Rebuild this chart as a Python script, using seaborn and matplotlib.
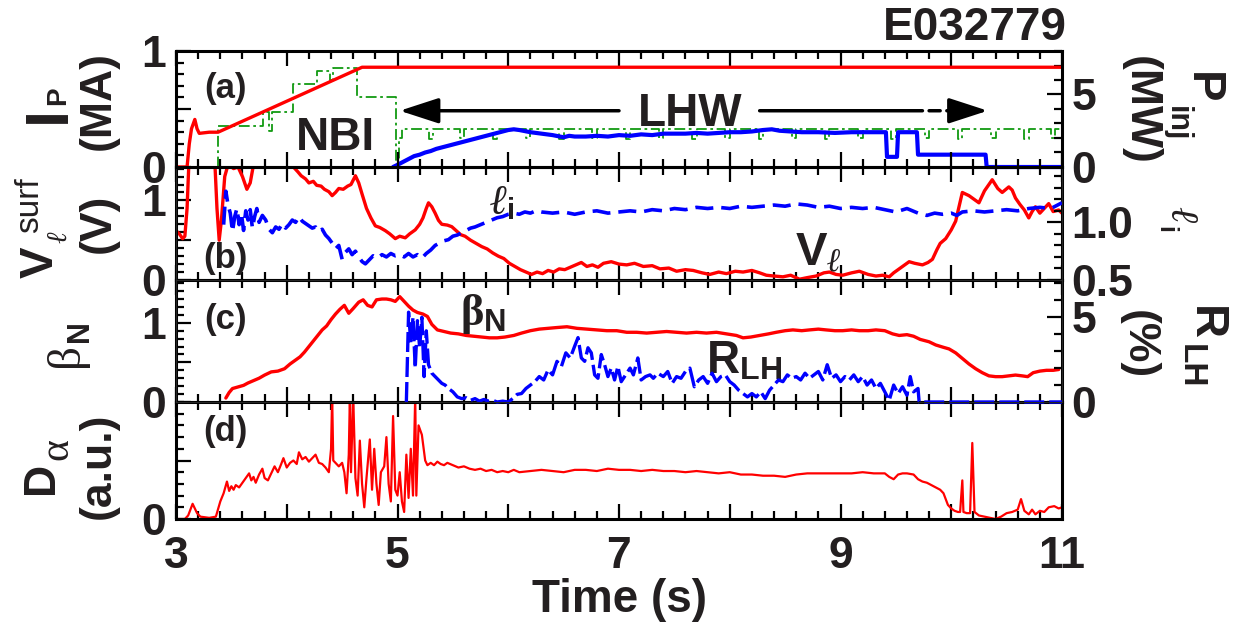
import matplotlib
matplotlib.use('Agg')
import matplotlib.pyplot as plt
from matplotlib.ticker import MultipleLocator
import seaborn as sns

# ---- data (time in s) ----
# (a) plasma current (MA)
ip = [(3.00, 0.0), (3.10, 0.0), (3.12, 0.2), (3.14, 0.33), (3.17, 0.41), (3.19, 0.33),
      (3.21, 0.29), (3.30, 0.30), (3.38, 0.30), (4.68, 0.86), (11.0, 0.86)]
# (a) NBI power (MW), step trace
nbi = [(3.00, 0.0), (3.38, 2.8), (3.79, 3.8), (3.84, 2.5), (3.87, 3.8), (4.06, 5.7), (4.27, 6.6),
       (4.39, 6.0), (4.42, 6.8), (4.63, 4.8), (4.99, 0.3), (5.01, 2.0), (5.04, 2.65), (5.28, 1.95),
       (5.32, 2.65), (5.56, 2.0), (5.60, 2.6), (5.86, 1.95), (5.90, 2.65), (6.16, 2.0), (6.20, 2.6),
       (6.46, 1.95), (6.50, 2.65), (6.76, 2.0), (6.80, 2.6), (7.06, 1.95), (7.10, 2.65), (7.36, 2.0),
       (7.40, 2.6), (7.66, 1.95), (7.70, 2.65), (7.96, 2.0), (8.00, 2.6), (8.26, 1.95), (8.30, 2.65),
       (8.56, 2.0), (8.60, 2.6), (8.86, 1.95), (8.90, 2.65), (9.16, 2.0), (9.20, 2.6), (9.46, 1.95),
       (9.50, 2.65), (9.76, 2.0), (9.80, 2.6), (10.06, 1.95), (10.10, 2.65), (10.36, 2.0),
       (10.40, 2.6), (10.66, 1.95), (10.70, 2.65), (10.90, 2.0), (10.94, 2.6), (11.0, 2.6)]
# (a) LHW power (MW)
lhw = [(4.96, 0.0), (5.00, 0.15), (5.05, 0.35), (5.10, 0.55), (5.15, 0.75), (5.20, 0.85), (5.25, 1.0),
       (5.30, 1.1), (5.35, 1.25), (5.40, 1.35), (5.45, 1.45), (5.50, 1.55), (5.55, 1.65), (5.60, 1.75),
       (5.65, 1.85), (5.70, 1.95), (5.75, 2.05), (5.80, 2.15), (5.85, 2.25), (5.90, 2.35), (5.95, 2.45),
       (6.00, 2.55), (6.05, 2.6), (6.10, 2.55), (6.20, 2.4), (6.30, 2.3), (6.40, 2.2), (6.50, 2.05),
       (6.55, 2.15), (6.60, 2.1), (6.70, 2.1), (6.80, 2.15), (6.90, 2.1), (7.00, 2.2), (7.10, 2.15),
       (7.20, 2.25), (7.30, 2.2), (7.40, 2.3), (7.50, 2.3), (7.60, 2.3), (7.70, 2.35), (7.80, 2.3),
       (7.90, 2.35), (8.00, 2.4), (8.10, 2.4), (8.20, 2.45), (8.30, 2.55), (8.38, 2.6), (8.45, 2.5),
       (8.55, 2.45), (8.65, 2.4), (8.80, 2.4), (8.95, 2.35), (9.10, 2.4), (9.25, 2.4), (9.41, 2.4),
       (9.42, 0.7), (9.51, 0.7), (9.52, 2.4), (9.69, 2.4), (9.70, 0.85), (10.31, 0.85), (10.32, 0.0),
       (11.0, 0.0)]
# (b) surface loop voltage (V)
vloop = [(3.00, 0.62), (3.03, 0.58), (3.06, 0.52), (3.08, 0.55), (3.10, 0.9), (3.12, 1.6), (3.30, 1.8),
         (3.35, 1.5), (3.37, 0.9), (3.39, 0.50), (3.41, 0.75), (3.44, 1.3), (3.47, 1.45), (3.52, 1.40),
         (3.56, 1.42), (3.60, 1.30), (3.64, 1.14), (3.67, 1.22), (3.70, 1.45), (3.75, 1.6), (4.02, 1.6),
         (4.06, 1.42), (4.10, 1.36), (4.13, 1.31), (4.17, 1.27), (4.20, 1.22), (4.24, 1.24), (4.27, 1.19),
         (4.31, 1.18), (4.34, 1.14), (4.38, 1.11), (4.41, 1.06), (4.44, 1.10), (4.47, 1.15), (4.51, 1.14),
         (4.55, 1.18), (4.58, 1.20), (4.62, 1.31), (4.65, 1.22), (4.68, 1.08), (4.72, 0.90), (4.76, 0.78),
         (4.80, 0.68), (4.84, 0.66), (4.89, 0.62), (4.93, 0.58), (4.98, 0.52), (5.02, 0.55), (5.07, 0.53),
         (5.11, 0.58), (5.16, 0.63), (5.20, 0.70), (5.23, 0.78), (5.26, 0.90), (5.28, 0.97), (5.31, 0.92),
         (5.34, 0.84), (5.37, 0.75), (5.40, 0.70), (5.45, 0.69), (5.49, 0.67), (5.53, 0.62), (5.57, 0.57),
         (5.61, 0.55), (5.66, 0.50), (5.71, 0.46), (5.76, 0.42), (5.81, 0.39), (5.86, 0.34), (5.91, 0.30),
         (5.96, 0.27), (6.01, 0.21), (6.06, 0.17), (6.11, 0.13), (6.16, 0.10), (6.21, 0.07), (6.26, 0.10),
         (6.31, 0.08), (6.36, 0.12), (6.41, 0.10), (6.46, 0.14), (6.51, 0.13), (6.56, 0.16), (6.61, 0.19),
         (6.66, 0.22), (6.71, 0.17), (6.76, 0.19), (6.81, 0.16), (6.86, 0.21), (6.93, 0.23), (7.00, 0.20),
         (7.07, 0.19), (7.14, 0.21), (7.22, 0.17), (7.30, 0.18), (7.37, 0.14), (7.45, 0.15), (7.52, 0.11),
         (7.60, 0.13), (7.67, 0.12), (7.75, 0.09), (7.82, 0.07), (7.90, 0.10), (7.97, 0.08), (8.05, 0.11),
         (8.12, 0.10), (8.20, 0.12), (8.27, 0.09), (8.33, 0.06), (8.40, 0.05), (8.48, 0.04), (8.55, 0.06),
         (8.63, 0.01), (8.70, 0.03), (8.78, 0.05), (8.85, 0.09), (8.90, 0.10), (8.96, 0.07), (9.02, 0.06),
         (9.10, 0.09), (9.17, 0.11), (9.25, 0.07), (9.32, 0.05), (9.38, 0.06), (9.44, 0.04), (9.48, 0.09),
         (9.53, 0.14), (9.58, 0.19), (9.62, 0.23), (9.67, 0.21), (9.74, 0.19), (9.79, 0.22), (9.83, 0.26),
         (9.87, 0.38), (9.90, 0.46), (9.95, 0.52), (10.00, 0.63), (10.04, 0.74), (10.07, 0.92),
         (10.10, 1.10), (10.16, 1.06), (10.20, 1.02), (10.25, 0.97), (10.30, 1.12), (10.37, 1.26),
         (10.42, 1.15), (10.46, 1.10), (10.52, 1.17), (10.55, 1.13), (10.58, 1.03), (10.62, 0.95),
         (10.66, 0.88), (10.70, 0.78), (10.73, 0.86), (10.76, 0.92), (10.80, 0.84), (10.84, 0.90),
         (10.88, 0.96), (10.92, 0.86), (10.97, 0.88), (11.00, 0.84)]
# (b) internal inductance
li = [(3.43, 0.98), (3.45, 1.27), (3.47, 1.15), (3.49, 1.08), (3.51, 0.92), (3.53, 1.05), (3.55, 1.12),
      (3.57, 0.98), (3.59, 1.08), (3.61, 0.93), (3.63, 1.10), (3.65, 1.02), (3.67, 1.11), (3.69, 0.95),
      (3.71, 1.05), (3.73, 1.12), (3.75, 1.00), (3.78, 1.06), (3.81, 1.02), (3.84, 0.94), (3.87, 0.91),
      (3.90, 0.96), (3.93, 0.94), (3.96, 0.99), (3.99, 0.95), (4.02, 0.98), (4.05, 1.02), (4.08, 1.00),
      (4.11, 1.05), (4.14, 1.01), (4.17, 0.99), (4.20, 0.97), (4.23, 0.95), (4.26, 0.96), (4.29, 0.92),
      (4.32, 0.94), (4.35, 0.89), (4.38, 0.86), (4.41, 0.82), (4.44, 0.77), (4.47, 0.80), (4.50, 0.68),
      (4.53, 0.74), (4.56, 0.77), (4.59, 0.72), (4.62, 0.75), (4.65, 0.70), (4.68, 0.66), (4.71, 0.64),
      (4.74, 0.67), (4.78, 0.71), (4.82, 0.69), (4.86, 0.72), (4.90, 0.70), (4.94, 0.73), (4.98, 0.71),
      (5.02, 0.72), (5.06, 0.70), (5.10, 0.73), (5.14, 0.70), (5.18, 0.72), (5.22, 0.69), (5.26, 0.73),
      (5.30, 0.76), (5.34, 0.80), (5.38, 0.82), (5.42, 0.84), (5.46, 0.85), (5.50, 0.88), (5.54, 0.89),
      (5.58, 0.91), (5.62, 0.93), (5.66, 0.95), (5.70, 0.96), (5.75, 0.98), (5.80, 1.00), (5.85, 1.02),
      (5.90, 1.04), (5.95, 1.05), (6.00, 1.07), (6.05, 1.08), (6.10, 1.07), (6.15, 1.09), (6.20, 1.08),
      (6.25, 1.10), (6.30, 1.09), (6.40, 1.08), (6.50, 1.09), (6.60, 1.07), (6.70, 1.09), (6.80, 1.10),
      (6.90, 1.08), (7.00, 1.09), (7.10, 1.10), (7.20, 1.09), (7.30, 1.11), (7.40, 1.10), (7.50, 1.12),
      (7.60, 1.11), (7.70, 1.13), (7.80, 1.12), (7.90, 1.13), (8.00, 1.12), (8.10, 1.14), (8.20, 1.13),
      (8.30, 1.14), (8.40, 1.15), (8.50, 1.14), (8.60, 1.16), (8.70, 1.15), (8.80, 1.13), (8.90, 1.14),
      (9.00, 1.12), (9.10, 1.13), (9.20, 1.12), (9.30, 1.13), (9.40, 1.11), (9.50, 1.09), (9.60, 1.12),
      (9.70, 1.08), (9.78, 1.06), (9.85, 1.08), (9.92, 1.07), (10.00, 1.08), (10.05, 1.06), (10.10, 1.09),
      (10.20, 1.10), (10.30, 1.09), (10.40, 1.10), (10.50, 1.11), (10.60, 1.10), (10.70, 1.12),
      (10.80, 1.13), (10.90, 1.12), (11.00, 1.17)]
# (c) normalised beta
beta_n = [(3.45, 0.05), (3.48, 0.12), (3.51, 0.17), (3.56, 0.19), (3.61, 0.21), (3.65, 0.24), (3.70, 0.27),
          (3.75, 0.30), (3.80, 0.34), (3.86, 0.38), (3.92, 0.39), (3.98, 0.42), (4.03, 0.48), (4.07, 0.52),
          (4.12, 0.57), (4.16, 0.63), (4.20, 0.70), (4.24, 0.77), (4.28, 0.84), (4.32, 0.91), (4.36, 0.96),
          (4.40, 1.04), (4.44, 1.11), (4.48, 1.17), (4.52, 1.22), (4.56, 1.12), (4.60, 1.18), (4.65, 1.26),
          (4.69, 1.29), (4.73, 1.22), (4.77, 1.20), (4.81, 1.29), (4.86, 1.30), (4.90, 1.30), (4.94, 1.29),
          (4.98, 1.27), (5.02, 1.33), (5.06, 1.27), (5.10, 1.21), (5.14, 1.16), (5.18, 1.13), (5.23, 1.11),
          (5.27, 1.08), (5.31, 0.98), (5.36, 0.91), (5.42, 0.89), (5.48, 0.87), (5.55, 0.86), (5.62, 0.84),
          (5.69, 0.83), (5.76, 0.82), (5.83, 0.81), (5.90, 0.81), (5.97, 0.82), (6.05, 0.84), (6.12, 0.87),
          (6.20, 0.90), (6.28, 0.92), (6.36, 0.93), (6.44, 0.94), (6.53, 0.95), (6.62, 0.93), (6.71, 0.92),
          (6.80, 0.91), (6.89, 0.90), (6.98, 0.90), (7.07, 0.88), (7.16, 0.88), (7.25, 0.87), (7.34, 0.88),
          (7.43, 0.89), (7.52, 0.88), (7.61, 0.87), (7.70, 0.88), (7.79, 0.87), (7.88, 0.88), (7.97, 0.86),
          (8.06, 0.84), (8.12, 0.81), (8.19, 0.82), (8.27, 0.84), (8.35, 0.86), (8.42, 0.88), (8.50, 0.90),
          (8.57, 0.91), (8.65, 0.90), (8.72, 0.91), (8.80, 0.92), (8.87, 0.91), (8.95, 0.90), (9.02, 0.90),
          (9.10, 0.91), (9.17, 0.90), (9.25, 0.90), (9.32, 0.91), (9.40, 0.90), (9.47, 0.86), (9.53, 0.84),
          (9.60, 0.85), (9.66, 0.83), (9.72, 0.79), (9.80, 0.76), (9.86, 0.72), (9.93, 0.69), (9.98, 0.67),
          (10.04, 0.62), (10.10, 0.55), (10.16, 0.48), (10.22, 0.42), (10.28, 0.37), (10.34, 0.33),
          (10.40, 0.32), (10.46, 0.32), (10.52, 0.33), (10.58, 0.34), (10.64, 0.33), (10.69, 0.32),
          (10.74, 0.37), (10.80, 0.39), (10.86, 0.40), (10.92, 0.40), (10.97, 0.41)]
# (c) LH wave reflection ratio (%)
r_lh = [(5.08, 0.0), (5.10, 5.3), (5.12, 3.5), (5.14, 5.0), (5.16, 2.0), (5.18, 4.8), (5.20, 3.2),
        (5.22, 5.0), (5.24, 1.5), (5.26, 4.2), (5.28, 2.2), (5.31, 1.7), (5.34, 1.5), (5.37, 1.3),
        (5.40, 1.1), (5.43, 1.0), (5.46, 0.8), (5.50, 0.6), (5.54, 0.3), (5.58, 0.2), (5.62, 0.25),
        (5.66, 0.1), (5.70, 0.2), (5.74, 0.05), (5.78, 0.15), (5.82, 0.05), (5.86, 0.1), (5.90, 0.0),
        (5.95, 0.05), (6.00, 0.0), (6.04, 0.2), (6.08, 0.45), (6.12, 0.5), (6.16, 0.8), (6.20, 1.0),
        (6.24, 1.2), (6.28, 1.5), (6.32, 1.3), (6.36, 1.9), (6.40, 1.6), (6.44, 2.4), (6.48, 2.1),
        (6.52, 2.9), (6.56, 2.6), (6.60, 3.3), (6.63, 3.8), (6.66, 2.6), (6.69, 2.4), (6.72, 3.2),
        (6.75, 2.9), (6.78, 1.6), (6.81, 1.4), (6.84, 2.8), (6.87, 2.2), (6.90, 1.5), (6.93, 2.0),
        (6.96, 1.3), (6.99, 2.1), (7.02, 1.2), (7.06, 1.6), (7.10, 2.0), (7.13, 1.6), (7.17, 2.6),
        (7.20, 1.3), (7.24, 1.5), (7.28, 1.6), (7.31, 1.4), (7.35, 1.7), (7.40, 1.5), (7.44, 1.8),
        (7.48, 1.1), (7.52, 1.5), (7.56, 1.4), (7.60, 1.8), (7.64, 2.0), (7.68, 0.9), (7.72, 1.3),
        (7.76, 1.5), (7.80, 1.1), (7.84, 1.7), (7.88, 1.2), (7.92, 1.5), (7.96, 1.6), (8.00, 1.2),
        (8.04, 1.0), (8.08, 0.7), (8.12, 0.5), (8.16, 0.3), (8.20, 0.5), (8.24, 0.3), (8.28, 0.6),
        (8.32, 0.2), (8.36, 0.7), (8.40, 1.0), (8.44, 1.3), (8.48, 1.2), (8.52, 1.6), (8.56, 1.4),
        (8.60, 1.5), (8.64, 1.3), (8.68, 1.7), (8.72, 1.4), (8.76, 1.6), (8.80, 1.8), (8.84, 1.3),
        (8.88, 2.2), (8.92, 1.4), (8.96, 1.6), (9.00, 1.2), (9.04, 1.5), (9.08, 1.3), (9.12, 1.6),
        (9.16, 1.2), (9.20, 1.5), (9.24, 1.0), (9.28, 1.3), (9.32, 0.8), (9.36, 1.1), (9.40, 0.6),
        (9.44, 0.1), (9.48, 1.0), (9.52, 0.5), (9.56, 0.9), (9.60, 0.4), (9.63, 1.5), (9.66, 0.6),
        (9.70, 0.8), (9.71, 0.0), (11.0, 0.0)]
# (d) D-alpha (a.u.)
d_alpha = [(3.00, 0.0), (3.08, 0.0), (3.11, 0.03), (3.15, 0.13), (3.19, 0.05), (3.22, 0.02), (3.30, 0.01),
           (3.36, 0.02), (3.40, 0.15), (3.43, 0.22), (3.46, 0.32), (3.48, 0.24), (3.50, 0.28), (3.52, 0.25),
           (3.54, 0.29), (3.57, 0.27), (3.60, 0.31), (3.63, 0.35), (3.66, 0.39), (3.68, 0.33), (3.70, 0.36),
           (3.72, 0.31), (3.75, 0.38), (3.78, 0.43), (3.80, 0.35), (3.83, 0.33), (3.86, 0.39), (3.89, 0.45),
           (3.92, 0.40), (3.95, 0.47), (3.97, 0.52), (4.00, 0.44), (4.03, 0.48), (4.06, 0.50), (4.09, 0.47),
           (4.11, 0.57), (4.14, 0.51), (4.17, 0.53), (4.20, 0.49), (4.23, 0.52), (4.26, 0.55), (4.29, 0.48),
           (4.32, 0.47), (4.35, 0.44), (4.38, 0.40), (4.40, 0.60), (4.41, 1.05), (4.42, 0.50), (4.44, 0.48),
           (4.47, 0.45), (4.50, 0.48), (4.52, 0.40), (4.54, 0.22), (4.56, 0.55), (4.57, 1.05), (4.58, 0.40),
           (4.60, 1.05), (4.62, 0.35), (4.64, 0.20), (4.66, 0.67), (4.68, 0.30), (4.70, 0.10), (4.72, 0.35),
           (4.75, 0.68), (4.77, 0.25), (4.79, 0.60), (4.81, 0.30), (4.83, 0.12), (4.85, 0.40), (4.88, 0.45),
           (4.90, 0.70), (4.92, 0.30), (4.94, 0.15), (4.96, 0.88), (4.98, 0.25), (5.00, 0.20), (5.02, 0.40),
           (5.04, 0.15), (5.06, 0.06), (5.08, 0.55), (5.10, 0.18), (5.12, 0.60), (5.14, 0.20), (5.16, 1.05),
           (5.17, 0.20), (5.19, 0.80), (5.22, 0.72), (5.25, 0.50), (5.27, 0.46), (5.30, 0.48), (5.33, 0.46),
           (5.36, 0.49), (5.39, 0.47), (5.42, 0.46), (5.45, 0.48), (5.50, 0.46), (5.55, 0.44), (5.60, 0.45),
           (5.65, 0.43), (5.70, 0.42), (5.75, 0.43), (5.80, 0.41), (5.85, 0.42), (5.90, 0.40), (5.95, 0.41),
           (6.00, 0.40), (6.05, 0.42), (6.10, 0.40), (6.20, 0.41), (6.30, 0.42), (6.40, 0.41), (6.50, 0.40),
           (6.60, 0.42), (6.70, 0.42), (6.80, 0.41), (6.90, 0.43), (7.00, 0.42), (7.10, 0.42), (7.20, 0.41),
           (7.30, 0.42), (7.40, 0.41), (7.50, 0.41), (7.60, 0.40), (7.70, 0.41), (7.80, 0.40), (7.90, 0.39),
           (8.00, 0.40), (8.10, 0.38), (8.20, 0.38), (8.30, 0.37), (8.40, 0.37), (8.50, 0.36), (8.60, 0.38),
           (8.70, 0.39), (8.80, 0.39), (8.90, 0.39), (9.00, 0.39), (9.10, 0.39), (9.20, 0.40), (9.30, 0.39),
           (9.40, 0.39), (9.44, 0.36), (9.48, 0.34), (9.52, 0.38), (9.56, 0.39), (9.60, 0.39), (9.66, 0.38),
           (9.70, 0.34), (9.74, 0.32), (9.78, 0.31), (9.82, 0.29), (9.86, 0.27), (9.90, 0.25), (9.93, 0.22),
           (9.95, 0.17), (9.97, 0.12), (10.00, 0.09), (10.03, 0.07), (10.06, 0.06), (10.08, 0.06),
           (10.10, 0.33), (10.11, 0.06), (10.14, 0.05), (10.17, 0.05), (10.19, 0.65), (10.21, 0.06),
           (10.25, 0.03), (10.30, 0.02), (10.35, 0.01), (10.40, 0.0), (10.45, 0.02), (10.50, 0.05),
           (10.55, 0.06), (10.60, 0.08), (10.63, 0.17), (10.66, 0.07), (10.70, 0.04), (10.73, 0.08),
           (10.76, 0.04), (10.80, 0.07), (10.84, 0.06), (10.88, 0.10), (10.93, 0.11), (10.97, 0.09),
           (11.00, 0.10)]

xtick_labels = ['3', '', '5', '', '7', '', '9', '', '11']

# ---- style ----
sns.set_style('ticks')
plt.rcParams['font.family'] = ['Liberation Sans', 'DejaVu Sans']
plt.rcParams['font.weight'] = 'bold'
plt.rcParams['mathtext.fontset'] = 'custom'
plt.rcParams['mathtext.rm'] = 'Liberation Serif'
plt.rcParams['mathtext.bf'] = 'Liberation Sans:bold'
plt.rcParams['mathtext.it'] = 'Liberation Serif:italic'
INK = '#231f20'
RED, BLUE, GREEN = '#ff0000', '#0000ff', '#119a11'
W, H = 1241, 630
TICK = 32


def trace(ax, pts, color, lw, ls='-', **kw):
    t, v = zip(*pts)
    sns.lineplot(x=list(t), y=list(v), ax=ax, color=color, linewidth=lw, linestyle=ls,
                 estimator=None, sort=False, **kw)


def frame(ax, ylim, major, labels, minor):
    ax.set_xlim(3, 11)
    ax.set_ylim(*ylim)
    ax.set_xticks(range(3, 12), xtick_labels)
    ax.xaxis.set_minor_locator(MultipleLocator(0.2))
    ax.set_yticks(major, labels)
    ax.yaxis.set_minor_locator(MultipleLocator(minor))
    ax.tick_params(which='both', direction='in', top=True, bottom=True, left=True, right=False,
                   width=1.6, color='k', labelsize=TICK, labelcolor=INK, labelbottom=False)
    ax.tick_params(which='major', length=11)
    ax.tick_params(which='minor', length=6)
    ax.tick_params(axis='y', pad=7)
    ax.set_xlabel('')
    ax.set_ylabel('')
    for s in ax.spines.values():
        s.set_linewidth(2.2)
        s.set_color('k')


def right(ax, ylim, major, labels, minor):
    r = ax.twinx()
    r.set_ylim(*ylim)
    r.set_yticks(major, labels)
    r.yaxis.set_minor_locator(MultipleLocator(minor))
    r.tick_params(which='both', direction='in', right=True, width=1.6, color='k',
                  labelsize=TICK, labelcolor=INK, pad=7)
    r.tick_params(which='major', length=11)
    r.tick_params(which='minor', length=6)
    return r


def ftext(x, y, s, size, rot=0, ha='left', weight='bold', family=None, style='normal'):
    fig.text(x / W, 1 - y / H, s, fontsize=size, rotation=rot, rotation_mode='anchor',
             ha=ha, va='baseline', fontweight=weight, color=INK, family=family, fontstyle=style)


fig = plt.figure(figsize=(12.41, 6.30), dpi=100)


def box(top, bot):
    return [176 / W, 1 - bot / H, 886 / W, (bot - top) / H]


ax_a = fig.add_axes(box(51, 167))
ax_b = fig.add_axes(box(167, 280))
ax_c = fig.add_axes(box(280, 402))
ax_d = fig.add_axes(box(402, 519))

# (a)
frame(ax_a, (0, 1.0), [0, 0.5, 1.0], ['0', '', '1'], 0.1)
ra = right(ax_a, (0, 8.0), [0, 5], ['0', '5'], 1)
trace(ra, nbi, GREEN, 1.3, ls=(0, (6, 2, 1.5, 2)), drawstyle='steps-post')
trace(ra, lhw, BLUE, 3.0, clip_on=False)
trace(ax_a, ip, RED, 2.4)
ax_a.set_zorder(ra.get_zorder() + 1)
ax_a.patch.set_visible(False)
ax_a.text(3.45, 0.68, '(a)', fontsize=25, ha='center', va='center', color=INK)
ax_a.text(4.44, 0.15, 'NBI', fontsize=33, ha='center', va='baseline', color=INK)
ax_a.text(7.64, 0.353, 'LHW', fontsize=33, ha='center', va='baseline', color=INK)
head = '-|>,head_length=0.4,head_width=0.13'
ax_a.annotate('', xy=(5.02, 0.485), xytext=(7.0, 0.485),
              arrowprops=dict(arrowstyle=head, mutation_scale=60, lw=2.5, color='k',
                              shrinkA=0, shrinkB=0))
ax_a.annotate('', xy=(9.74, 0.485), xytext=(8.27, 0.485),
              arrowprops=dict(arrowstyle='-', lw=2.5, color='k', shrinkA=0, shrinkB=0))
ax_a.annotate('', xy=(9.90, 0.485), xytext=(9.80, 0.485),
              arrowprops=dict(arrowstyle='-', lw=2.5, color='k', shrinkA=0, shrinkB=0))
ax_a.annotate('', xy=(9.99, 0.485), xytext=(9.96, 0.485),
              arrowprops=dict(arrowstyle='-', lw=2.5, color='k', shrinkA=0, shrinkB=0))
ax_a.annotate('', xy=(10.33, 0.485), xytext=(10.02, 0.485),
              arrowprops=dict(arrowstyle=head, mutation_scale=60, lw=2.5, color='k',
                              shrinkA=0, shrinkB=0))

# (b)
frame(ax_b, (0, 1.42), [0, 0.5, 1.0], ['0', '', '1'], 0.1)
rb = right(ax_b, (0.5, 1.48), [0.5, 1.0], ['0.5', '1.0'], 0.1)
trace(ax_b, vloop, RED, 2.4)
trace(rb, li, BLUE, 2.6, ls=(0, (5, 2.2)))
ax_b.text(3.45, 0.27, '(b)', fontsize=25, ha='center', va='center', color=INK)
ax_b.text(5.83, 0.83, r'$\ell_{\mathbf{i}}$', fontsize=30, ha='left', va='baseline', color=INK)
ax_b.text(8.59, 0.19, r'$\mathbf{V}_{\ell}$', fontsize=34, ha='left', va='baseline', color=INK)

# (c)
frame(ax_c, (0, 1.54), [0, 0.5, 1.0], ['0', '', '1'], 0.1)
rc = right(ax_c, (0, 7.2), [0, 5], ['0', '5'], 1)
trace(ax_c, beta_n, RED, 2.4)
trace(rc, r_lh, BLUE, 2.4, ls=(0, (6, 1.5)), clip_on=False)
ax_c.text(3.45, 1.04, '(c)', fontsize=25, ha='center', va='center', color=INK)
ax_c.text(5.56, 0.97, r'$\mathrm{\beta}_{\mathbf{N}}$', fontsize=32, ha='left', va='baseline', color=INK)
ax_c.text(7.79, 0.36, r'$\mathbf{R}_{\mathbf{LH}}$', fontsize=33, ha='left', va='baseline', color=INK)

# (d)
frame(ax_d, (0, 1.0), [0, 0.5], ['0', ''], 0.1)
trace(ax_d, d_alpha, RED, 1.6)
ax_d.tick_params(labelbottom=True, axis='x', pad=12)
ax_d.text(3.45, 0.75, '(d)', fontsize=25, ha='center', va='center', color=INK)

# ---- axis titles ----
ftext(65, 123, 'I', 44, rot=90)
ftext(65, 105, 'P', 20, rot=90)
ftext(110, 100, '(MA)', 32, rot=90, ha='center')
ftext(53, 278, 'V', 34, rot=90)
ftext(66, 243, 'ℓ', 20, rot=90, weight='normal', family=['Liberation Serif', 'DejaVu Serif'], style='italic')
ftext(38, 233, 'surf', 24, rot=90, weight='normal')
ftext(110, 223, '(V)', 32, rot=90, ha='center')
ftext(78, 367, 'β', 34, rot=90, weight='normal', family=['Liberation Serif', 'DejaVu Serif'])
ftext(88, 342, 'N', 22, rot=90)
ftext(53, 494, 'D', 32, rot=90)
ftext(67, 460, 'α', 30, rot=90, weight='normal', family=['Liberation Serif', 'DejaVu Serif'])
ftext(110, 466, '(a.u.)', 32, rot=90, ha='center')

ftext(1190, 72, 'P', 34, rot=270)
ftext(1169, 106, 'inj', 22, rot=270)
ftext(1129, 110, '(MW)', 32, rot=270, ha='center')
ftext(1170, 206, 'ℓ', 28, rot=270, weight='normal', family=['Liberation Serif', 'DejaVu Serif'], style='italic')
ftext(1158, 226, 'i', 18, rot=270)
ftext(1193, 306, 'R', 34, rot=270)
ftext(1182, 344, 'LH', 24, rot=270)
ftext(1127, 345, '(%)', 32, rot=270, ha='center')

ftext(1067, 40, 'E032779', 33, ha='right')
ftext(619, 612, 'Time (s)', 33, ha='center')

fig.savefig('out.png', dpi=100)
